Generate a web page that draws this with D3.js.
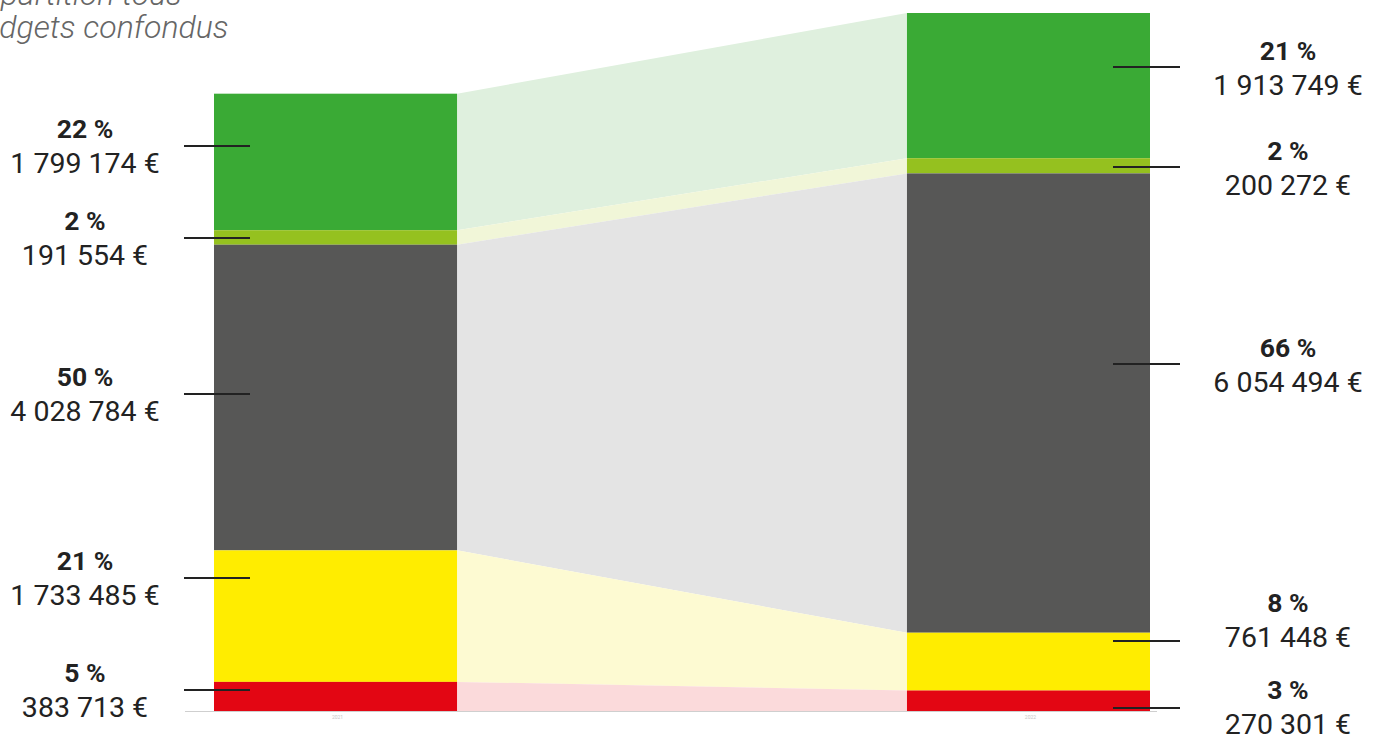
<!DOCTYPE html>
<html><head><meta charset="utf-8">
<script src="https://cdn.jsdelivr.net/npm/d3@7"></script>
<style>
html,body{margin:0;padding:0;background:#fff;overflow:hidden}
svg{display:block}
</style></head>
<body>
<svg id="chart" width="1384" height="740"></svg>
<script>
// ---- data ----
const years = ["2021", "2022"];
const categories = ["vert", "olive", "gris", "jaune", "rouge"];
const valuesLeft  = [1799174, 191554, 4028784, 1733485, 383713];
const valuesRight = [1913749, 200272, 6054494, 761448, 270301];
const percentLeft  = ["22 %", "2 %", "50 %", "21 %", "5 %"];
const percentRight = ["21 %", "2 %", "66 %", "8 %", "3 %"];
const titleLines = ["Répartition tous", "budgets confondus"];

// ---- layout / style ----
const barColors  = ["#3aaa35", "#95c11f", "#575756", "#ffed00", "#e30613"];
const flowColors = ["#dff0de", "#f1f6d8", "#e4e4e4", "#fdfad2", "#fbdadb"];
const labelTickLeft  = [146, 238, 394, 578, 690];   // pixel y of leader ticks
const labelTickRight = [67, 167, 364, 641, 708];
const labelMidLeft   = [146, 238, 394, 578, 690];   // pixel y of label block centres
const labelMidRight  = [68, 168, 365, 620, 707];

const svg = d3.select("#chart");
const fmt = v => d3.format(",")(v).replace(/,/g, " ") + " €";

const maxTotal = d3.max([d3.sum(valuesLeft), d3.sum(valuesRight)]);
const y = d3.scaleLinear().domain([0, maxTotal]).range([711, 13]);
const x = d3.scaleBand().domain(years).range([214, 1150]).paddingInner(0.6493).paddingOuter(0);

// categories listed top to bottom; stack from bottom (last) upward
function stackTopDown(vals) {
  const rev = vals.slice().reverse();
  let acc = 0;
  const out = [];
  rev.forEach((v, k) => { out.push({i: vals.length - 1 - k, v, y0: acc, y1: acc + v}); acc += v; });
  return out.sort((a, b) => a.i - b.i);
}
const sL = stackTopDown(valuesLeft);
const sR = stackTopDown(valuesRight);

const xL0 = x(years[0]), xL1 = xL0 + x.bandwidth();
const xR0 = x(years[1]), xR1 = xR0 + x.bandwidth();

// flows
svg.append("g").selectAll("path").data(categories).join("path")
  .attr("d", (c, i) => {
    const a = sL[i], b = sR[i];
    return `M${xL1},${y(a.y1)}L${xR0},${y(b.y1)}L${xR0},${y(b.y0)}L${xL1},${y(a.y0)}Z`;
  })
  .attr("fill", (c, i) => flowColors[i]);

// bars
[[sL, years[0]], [sR, years[1]]].forEach(([st, yr]) => {
  svg.append("g").selectAll("rect").data(st).join("rect")
    .attr("x", x(yr)).attr("width", x.bandwidth())
    .attr("y", d => y(d.y1)).attr("height", d => y(d.y0) - y(d.y1))
    .attr("fill", d => barColors[d.i]);
});

// baseline
svg.append("line").attr("x1", 185).attr("x2", 1157)
  .attr("y1", y(0) + 0.5).attr("y2", y(0) + 0.5)
  .attr("stroke", "#cfcfcf").attr("stroke-width", 1.2);

// tiny year labels
svg.append("g").selectAll("text").data(years).join("text")
  .attr("x", d => x(d) + x.bandwidth() / 2 + 2).attr("y", y(0) + 8)
  .attr("text-anchor", "middle").attr("font-family", "Roboto")
  .attr("font-size", 5).attr("fill", "#c8c8c8").text(d => d);

// leader ticks + labels
function labels(ticks, mids, vals, pcts, x1, x2, cx) {
  const g = svg.append("g");
  g.selectAll("line").data(ticks).join("line")
    .attr("x1", x1).attr("x2", x2).attr("y1", d => d).attr("y2", d => d)
    .attr("stroke", "#222").attr("stroke-width", 2);
  const t = g.selectAll("g.lab").data(mids).join("g").attr("class", "lab");
  t.append("text").attr("x", cx).attr("y", d => d - 8)
    .attr("text-anchor", "middle").attr("font-family", "Roboto")
    .attr("font-weight", 700).attr("font-size", 26.5).attr("fill", "#222")
    .text((d, i) => pcts[i]);
  t.append("text").attr("x", cx).attr("y", d => d + 27)
    .attr("text-anchor", "middle").attr("font-family", "Roboto")
    .attr("font-weight", 400).attr("font-size", 28.5).attr("fill", "#222")
    .text((d, i) => fmt(vals[i]));
}
labels(labelTickLeft, labelMidLeft, valuesLeft, percentLeft, 184, 250, 85);
labels(labelTickRight, labelMidRight, valuesRight, percentRight, 1113, 1180, 1288);

// clipped title
svg.append("g").selectAll("text").data(titleLines).join("text")
  .attr("x", -35).attr("y", (d, i) => 5 + i * 33)
  .attr("font-family", "Roboto").attr("font-style", "italic").attr("font-weight", 300)
  .attr("font-size", 32).attr("fill", "#666").text(d => d);
</script>
</body></html>
